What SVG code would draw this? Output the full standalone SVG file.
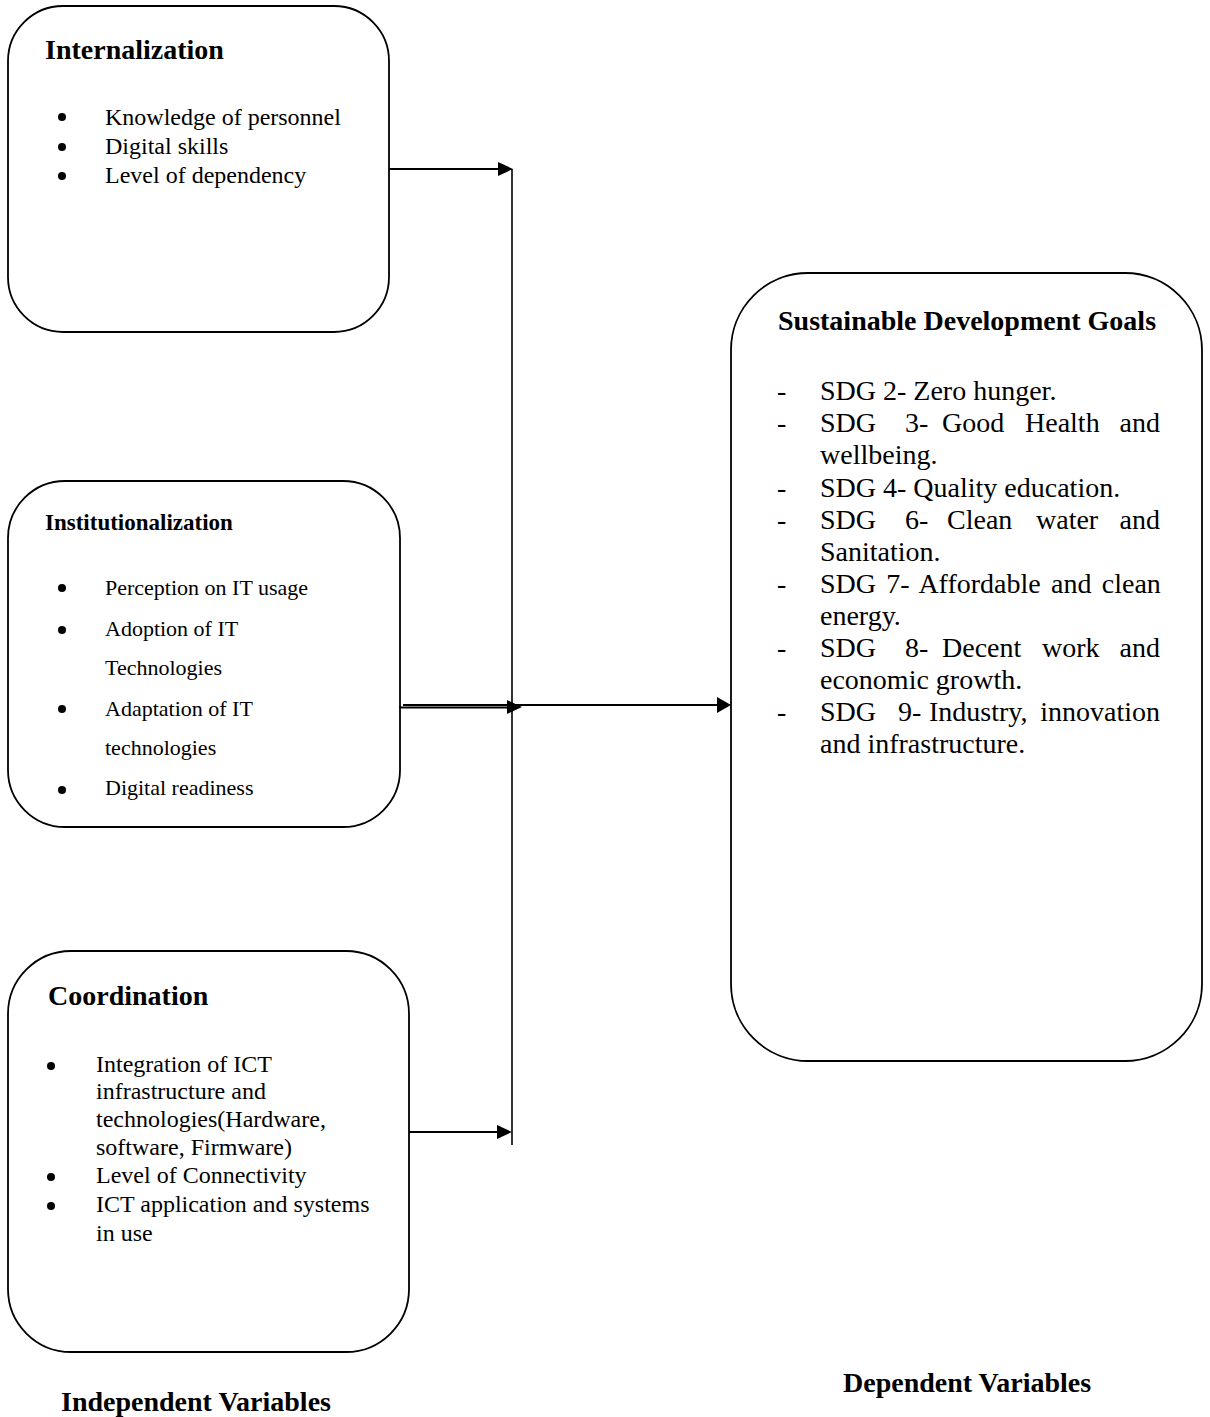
<svg xmlns="http://www.w3.org/2000/svg" width="1210" height="1417" viewBox="0 0 1210 1417">
<style>
.box{fill:#fff;stroke:#000;stroke-width:1.8}
.t{font-family:"Liberation Serif","Times New Roman",serif;fill:#000}
.b{font-weight:bold}
.s24{font-size:24px}
.s22{font-size:22px}
.s28{font-size:28px}
.s23{font-size:23px}
.ln{stroke:#000;stroke-width:2;fill:none}
.hd{fill:#000}
</style>
<rect width="1210" height="1417" fill="#fff"/>
<g id="internalization">
<rect class="box" x="8" y="6" width="381" height="326" rx="55" ry="55"/>
<text class="t b s28" x="45" y="59">Internalization</text>
<circle cx="62" cy="117" r="4"/><text class="t s24" x="105" y="125">Knowledge of personnel</text>
<circle cx="62" cy="147" r="4"/><text class="t s24" x="105" y="154">Digital skills</text>
<circle cx="62" cy="176" r="4"/><text class="t s24" x="105" y="183">Level of dependency</text>
</g>
<g id="institutionalization">
<rect class="box" x="8" y="481" width="392" height="346" rx="57" ry="57"/>
<text class="t b s23" x="45" y="530">Institutionalization</text>
<circle cx="62" cy="588" r="4"/><text class="t s22" x="105" y="595">Perception on IT usage</text>
<circle cx="62" cy="630" r="4"/><text class="t s22" x="105" y="636">Adoption of IT</text>
<text class="t s22" x="105" y="675">Technologies</text>
<circle cx="62" cy="709" r="4"/><text class="t s22" x="105" y="716">Adaptation of IT</text>
<text class="t s22" x="105" y="755">technologies</text>
<circle cx="62" cy="790" r="4"/><text class="t s22" x="105" y="795">Digital readiness</text>
</g>
<g id="coordination">
<rect class="box" x="8" y="951" width="401" height="401" rx="63" ry="63"/>
<text class="t b s28" x="48" y="1005">Coordination</text>
<circle cx="51" cy="1066" r="4"/><text class="t s24" x="96" y="1072">Integration of ICT</text>
<text class="t s24" x="96" y="1099">infrastructure and</text>
<text class="t s24" x="96" y="1127">technologies(Hardware,</text>
<text class="t s24" x="96" y="1155">software, Firmware)</text>
<circle cx="51" cy="1177" r="4"/><text class="t s24" x="96" y="1183">Level of Connectivity</text>
<circle cx="51" cy="1206" r="4"/><text class="t s24" x="96" y="1212">ICT application and systems</text>
<text class="t s24" x="96" y="1241">in use</text>
</g>
<g id="sdg">
<rect class="box" x="731" y="273" width="471" height="788" rx="77" ry="77"/>
<text class="t b s28" x="778" y="330">Sustainable Development Goals</text>
<g class="t s28">
<text x="777" y="400">-</text><text x="820" y="400">SDG 2- Zero hunger.</text>
<text x="777" y="432">-</text><text y="432"><tspan x="820">SDG</tspan><tspan x="905">3-</tspan><tspan x="942">Good</tspan><tspan x="1025">Health</tspan><tspan x="1160" text-anchor="end">and</tspan></text>
<text x="820" y="464">wellbeing.</text>
<text x="777" y="497">-</text><text x="820" y="497">SDG 4- Quality education.</text>
<text x="777" y="529">-</text><text y="529"><tspan x="820">SDG</tspan><tspan x="905">6-</tspan><tspan x="947">Clean</tspan><tspan x="1036">water</tspan><tspan x="1160" text-anchor="end">and</tspan></text>
<text x="820" y="561">Sanitation.</text>
<text x="777" y="593">-</text><text x="820" y="593" word-spacing="3.3">SDG 7- Affordable and clean</text>
<text x="820" y="625">energy.</text>
<text x="777" y="657">-</text><text y="657"><tspan x="820">SDG</tspan><tspan x="905">8-</tspan><tspan x="942">Decent</tspan><tspan x="1042">work</tspan><tspan x="1160" text-anchor="end">and</tspan></text>
<text x="820" y="689">economic growth.</text>
<text x="777" y="721">-</text><text y="721"><tspan x="820">SDG</tspan><tspan x="898">9-</tspan><tspan x="929">Industry,</tspan><tspan x="1160" text-anchor="end">innovation</tspan></text>
<text x="820" y="753">and infrastructure.</text>
</g>
</g>
<g id="connectors">
<line class="ln" x1="512" y1="169" x2="512" y2="1145" style="stroke-width:1.6"/>
<line class="ln" x1="389" y1="169" x2="499" y2="169"/>
<polygon class="hd" points="498,162 513,169 498,176"/>
<line class="ln" x1="403" y1="705" x2="509" y2="705"/>
<line class="ln" x1="399" y1="707.5" x2="509" y2="707.5"/>
<polygon class="hd" points="507,700 522,707 507,714"/>
<line class="ln" x1="512" y1="705" x2="718" y2="705"/>
<polygon class="hd" points="717,697 731,705 717,713"/>
<line class="ln" x1="409" y1="1132" x2="499" y2="1132"/>
<polygon class="hd" points="497,1125 512,1132 497,1139"/>
</g>
<g id="labels">
<text class="t b s28" x="61" y="1411">Independent Variables</text>
<text class="t b s28" x="843" y="1392">Dependent Variables</text>
</g>
</svg>
